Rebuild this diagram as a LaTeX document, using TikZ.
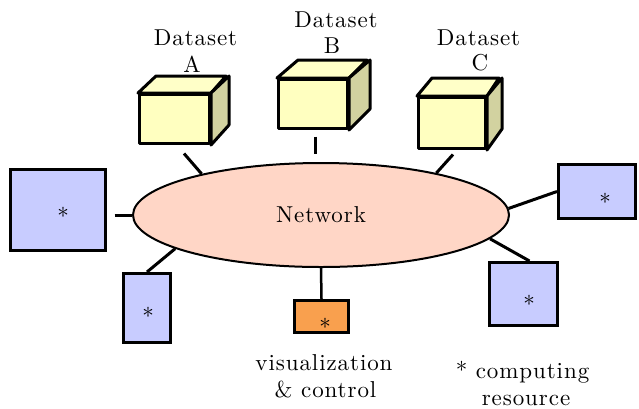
\documentclass[tikz,border=0pt]{standalone}
\usepackage{fontspec}
\setmainfont{lmroman10-regular}[Extension=.otf, LetterSpace=4]
\usetikzlibrary{shapes.geometric,calc}

\definecolor{cubefront}{HTML}{FFFFC0}
\definecolor{cubetop}{HTML}{FFFFC8}
\definecolor{cubeside}{HTML}{D2D2A0}
\definecolor{compfill}{HTML}{C8CCFF}
\definecolor{netfill}{HTML}{FFD6C6}
\definecolor{visfill}{HTML}{F9A04E}

\tikzset{
  edge/.style={line width=3pt, line join=round},
  cubeface/.style={edge, draw=black, fill=cubefront, inner sep=0pt},
  compbox/.style={draw=black, line width=3pt, fill=compfill, inner sep=0pt},
  visbox/.style={draw=black, line width=3pt, fill=visfill, inner sep=0pt},
  link/.style={line width=3pt},
  lbl/.style={font=\fontsize{23}{27}\selectfont, inner sep=0pt, anchor=base},
  star/.style={font=\fontsize{23}{27}\selectfont, inner sep=0pt},
}

% front face, then top and side faces of a data cube
\newcommand\datacube[5]{% name, width, height, depth x, depth y
  \draw[edge, fill=cubetop] (#1.north west) -- ++(#4,-#5) -- ++(#2,0) -- (#1.north east) -- cycle;
  \draw[edge, fill=cubeside] (#1.north east) -- ++(#4,-#5) -- ++(0,#3) -- (#1.south east) -- cycle;
}

\begin{document}
\begin{tikzpicture}[x=1pt, y=-1pt]
\useasboundingbox (0,0) rectangle (639,408);

% network
\node[ellipse, draw=black, line width=2pt, fill=netfill, minimum width=376, minimum height=104,
      font=\fontsize{23}{27}\selectfont] (net) at (321,215) {Network};

% datasets
\node[cubeface, minimum width=70, minimum height=49] (A) at (174.5,119) {};
\datacube{A}{70}{49}{18}{17}
\node[cubeface, minimum width=69, minimum height=49] (B) at (313,104) {};
\datacube{B}{69}{49}{21}{18}
\node[cubeface, minimum width=67, minimum height=51] (C) at (452,123) {};
\datacube{C}{67}{51}{15}{18}

\node[lbl] (dA) at (195.5,45) {Dataset};
\node[lbl] (dAl) at (192,72) {A};
\node[lbl] (dB) at (336,27) {Dataset};
\node[lbl] (dBl) at (332,53) {B};
\node[lbl] (dC) at (478.5,45) {Dataset};
\node[lbl] (dCl) at (480,70) {C};

% computing resources
\node[compbox, minimum width=95, minimum height=81] (L1) at (58,210) {};
\node[compbox, minimum width=47, minimum height=69] (L2) at (147,308) {};
\node[compbox, minimum width=77, minimum height=54] (R1) at (597,191.5) {};
\node[compbox, minimum width=68, minimum height=63] (R2) at (523.5,294) {};
\node[visbox, minimum width=54, minimum height=32] (O) at (321.5,316.5) {};

\node[star] (sL1) at (63,216) {*};
\node[star] (sL2) at (148,316) {*};
\node[star] (sR1) at (605,202) {*};
\node[star] (sR2) at (529,304) {*};
\node[star] (sO) at (325,327) {*};

% links to the network
\draw[link] ($(A.south)+(9.5,8.5)$) -- (net.161);
\draw[link] ($(B.south)+(2,6.5)$) -- ($(B.south |- net.north)+(2,-8)$);
\draw[link] ($(C.south)+(1,4.5)$) -- (net.20);
\draw[link] ($(L1.east)+(7.5,5)$) -- (net.west);
\draw[link] (L2.north) -- (net.193);
\draw[link] (net.2) -- (R1.west);
\draw[link] (net.-8) -- ($(R2.north)+(6,0)$);
\draw[line width=2.5pt] (net.south) -- (O.north);

% captions
\node[lbl] (vis1) at (324,370) {visualization};
\node[lbl] (vis2) at (325.5,397) {\& control};
\node[lbl] (cr1) at (522.5,378) {* computing};
\node[lbl] (cr2) at (526,405) {resource};
\end{tikzpicture}
\end{document}
